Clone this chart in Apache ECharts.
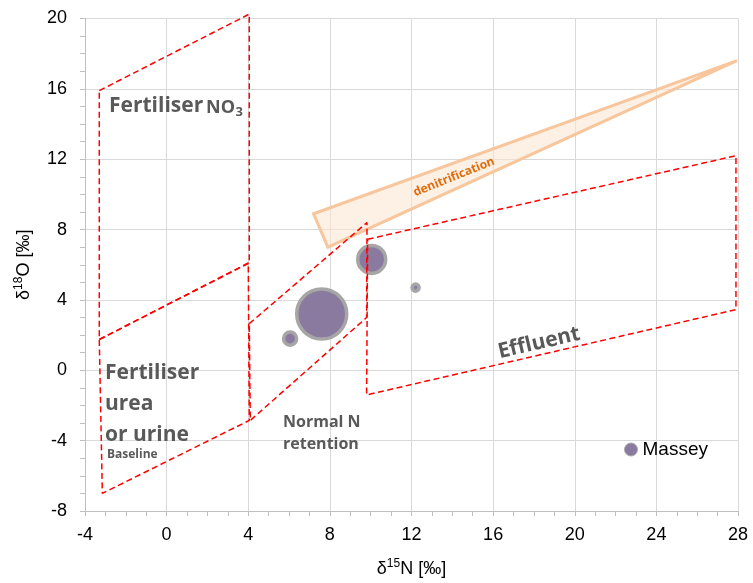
<!DOCTYPE html>
<html>
<head>
<meta charset="utf-8">
<script src="https://cdn.jsdelivr.net/npm/echarts@6/dist/echarts.min.js"></script>
<style>
  html, body { margin: 0; padding: 0; background: #ffffff; }
  #chart { width: 753px; height: 583px; }
</style>
</head>
<body>
<div id="chart"></div>
<script>
// Axis ranges (δ15N on x, δ18O on y, both in ‰)
const xRange = { min: -4, max: 28, step: 4 };
const yRange = { min: -8, max: 20, step: 4 };

// Source boxes as [δ15N, δ18O] corners, closed back to the first corner
const fertiliserNO3   = [[-3.3, 15.9], [4.05, 20.25], [4.05, 6.1], [-3.3, 1.75], [-3.3, 15.9]];
const fertiliserUrea  = [[-3.3, 1.75], [4.0, 6.1], [4.05, -2.85], [-3.15, -7.0], [-3.3, 1.75]];
const normalRetention = [[4.05, 2.65], [9.82, 8.4], [9.8, 3.0], [4.1, -2.85], [4.05, 2.65]];
const effluentBox     = [[9.85, 7.45], [27.9, 12.2], [27.9, 3.45], [9.8, -1.4], [9.85, 7.45]];

// Denitrification wedge
const denitrification = [[7.2, 8.9], [27.95, 17.6], [7.9, 7.0]];

// Massey samples: δ15N, δ18O and bubble magnitude
const masseyN15  = [7.6, 6.05, 10.05, 12.2];
const masseyO18  = [3.2, 1.8, 6.3, 4.7];
const masseySize = [25, 1.7, 7.8, 0.5];

const masseyData = masseyN15.map((x, i) => [x, masseyO18[i], masseySize[i]]);

const GRID = '#d9d9d9';
const LABEL_GREY = '#595959';
const BOX_RED = '#ff0000';

function boxSeries(name, pts) {
  return {
    type: 'line',
    name: name,
    data: pts,
    symbol: 'none',
    silent: true,
    clip: false,
    z: 4,
    lineStyle: { color: BOX_RED, width: 1.5, type: [6, 3.5] }
  };
}

function note(text, x, y, size, extra) {
  return Object.assign({
    type: 'text', x: x, y: y, silent: true, z: 10,
    style: {
      text: text,
      fontFamily: 'Open Sans', fontWeight: 'bold', fontSize: size,
      fill: LABEL_GREY, verticalAlign: 'middle'
    }
  }, extra || {});
}

const chart = echarts.init(document.getElementById('chart'), null, { renderer: 'canvas' });

const axisCommon = {
  type: 'value',
  axisLine: { show: true, onZero: false, lineStyle: { color: '#bfbfbf', width: 1 } },
  axisTick: { show: true, inside: false, length: 5, lineStyle: { color: '#bfbfbf' } },
  minorTick: { show: true, splitNumber: 4, length: 5, lineStyle: { color: '#bfbfbf' } },
  splitLine: { show: true, lineStyle: { color: GRID, width: 1 } },
  axisLabel: { fontFamily: 'Liberation Sans', fontSize: 18, color: '#000000' }
};

const nameRich = {
  t: { fontFamily: 'Liberation Sans', fontSize: 18, color: '#000', lineHeight: 22 },
  sup: { fontFamily: 'Liberation Sans', fontSize: 12, color: '#000', lineHeight: 15, verticalAlign: 'top' }
};

const effluentLabel = note('Effluent', 539, 343, 21);
effluentLabel.rotation = 13 * Math.PI / 180;
effluentLabel.style.align = 'center';

const denitLabel = note('denitrification', 454, 177, 12);
denitLabel.rotation = 22 * Math.PI / 180;
denitLabel.style.align = 'center';
denitLabel.style.fill = '#e36c0a';

const ureaLabel = note('Fertiliser\nurea\nor urine', 105, 358, 21);
ureaLabel.style.lineHeight = 31;
ureaLabel.style.verticalAlign = 'top';

const retentionLabel = note('Normal N\nretention', 283, 411, 16);
retentionLabel.style.lineHeight = 22;
retentionLabel.style.verticalAlign = 'top';

chart.setOption({
  animation: false,
  backgroundColor: '#ffffff',
  grid: { left: 85, right: 15, top: 18.5, bottom: 72, containLabel: false },
  xAxis: Object.assign({}, axisCommon, {
    min: xRange.min, max: xRange.max, interval: xRange.step,
    axisLabel: Object.assign({}, axisCommon.axisLabel, { margin: 15 }),
    name: '{t|δ}{sup|15}{t|N [‰]}',
    nameLocation: 'middle',
    nameGap: 47,
    nameTextStyle: { rich: nameRich }
  }),
  yAxis: Object.assign({}, axisCommon, {
    min: yRange.min, max: yRange.max, interval: yRange.step,
    axisLabel: Object.assign({}, axisCommon.axisLabel, { margin: 18 }),
    name: '{t|δ}{sup|18}{t|O [‰]}',
    nameLocation: 'middle',
    nameRotate: 90,
    nameGap: 50,
    nameTextStyle: { rich: nameRich }
  }),
  legend: {
    data: ['Massey'],
    left: 624,
    top: 440,
    padding: 0,
    icon: 'circle',
    itemWidth: 13,
    itemHeight: 13,
    itemStyle: { borderWidth: 1, borderColor: '#a6a6a6' },
    textStyle: { fontFamily: 'Liberation Sans', fontSize: 19, color: '#000' }
  },
  series: [
    {
      type: 'custom',
      name: 'denitrification',
      silent: true,
      clip: false,
      z: 2,
      data: [[0, 0]],
      renderItem: function (params, api) {
        return {
          type: 'polygon',
          shape: { points: denitrification.map(p => api.coord(p)) },
          style: { fill: 'rgba(251, 229, 210, 0.55)', stroke: '#f8c69c', lineWidth: 3, lineJoin: 'miter' }
        };
      }
    },
    {
      type: 'scatter',
      name: 'Massey',
      data: masseyData,
      symbol: 'circle',
      symbolSize: v => 10 * Math.sqrt(v[2]),
      z: 3,
      itemStyle: { color: '#8a7a9f', borderColor: '#a6a6a6', borderWidth: 3.5, opacity: 1 }
    },
    boxSeries('Fertiliser NO3', fertiliserNO3),
    boxSeries('Fertiliser urea', fertiliserUrea),
    boxSeries('Normal N retention', normalRetention),
    boxSeries('Effluent', effluentBox)
  ],
  graphic: {
    elements: [
      note('Fertiliser', 109, 106.5, 21),
      note('NO', 206, 107.5, 18),
      note('3', 235.5, 112, 13),
      ureaLabel,
      note('Baseline', 107, 455, 12),
      retentionLabel,
      effluentLabel,
      denitLabel
    ]
  }
});
</script>
</body>
</html>
